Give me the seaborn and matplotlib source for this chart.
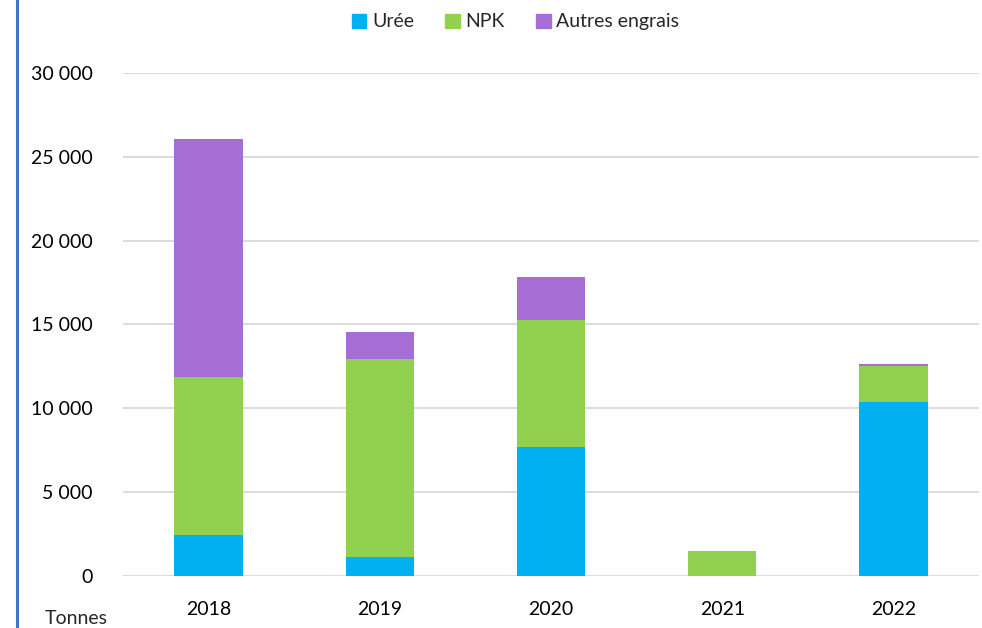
import numpy as np
import pandas as pd
import matplotlib.pyplot as plt
import matplotlib.lines as mlines
import matplotlib.patches as mpatches
import seaborn as sns

# Data (tonnes)
years = ["2018", "2019", "2020", "2021", "2022"]
uree = [2450, 1130, 7690, 0, 10390]
npk = [9420, 11810, 7580, 1490, 2130]
autres = [14190, 1610, 2560, 0, 100]

colors = {"Urée": "#00B0F0", "NPK": "#92D050", "Autres engrais": "#A66DD4"}

sns.set_theme(style="white")
plt.rcParams['font.family'] = ['Lato', 'DejaVu Sans']

df = pd.DataFrame({"year": years, "Urée": uree, "NPK": npk, "Autres engrais": autres})
df["c1"] = df["Urée"]
df["c2"] = df["c1"] + df["NPK"]
df["c3"] = df["c2"] + df["Autres engrais"]

fig = plt.figure(figsize=(9.82, 6.28), dpi=100)
ax = fig.add_axes([0.1253, 0.0828, 0.8717, 0.801])

# stacked: draw cumulative totals back to front
for col, name in [("c3", "Autres engrais"), ("c2", "NPK"), ("c1", "Urée")]:
    sns.barplot(data=df, x="year", y=col, color=colors[name], width=0.4,
                saturation=1, ax=ax, linewidth=0)

ax.set_ylim(0, 30000)
ax.set_yticks(np.arange(0, 30001, 5000))
ax.set_yticklabels([f"{v:,}".replace(",", " ") for v in range(0, 30001, 5000)])
ax.yaxis.grid(True, color="#D9D9D9", linewidth=1.3)
ax.set_axisbelow(True)
for s in ax.spines.values():
    s.set_visible(False)
ax.tick_params(axis="y", labelsize=14, pad=22, length=0, colors="#000000")
ax.tick_params(axis="x", labelsize=14, pad=18, length=0, colors="#000000")
ax.set_xlabel("")
ax.set_ylabel("")

fig.text(0.046, 0.002, "Tonnes", fontsize=14, ha="left", va="bottom")

handles = [mpatches.Patch(color=colors[n], label=n) for n in ["Urée", "NPK", "Autres engrais"]]
fig.legend(handles=handles, loc="center", bbox_to_anchor=(0.525, 0.965), ncol=3,
           frameon=False, fontsize=14, handlelength=0.75, handleheight=0.75,
           handletextpad=0.3, columnspacing=1.6)

fig.add_artist(mlines.Line2D([0.0175, 0.0175], [0, 1], color="#4472C4", linewidth=2.2,
                             transform=fig.transFigure))

fig.savefig("out.png", dpi=100)
